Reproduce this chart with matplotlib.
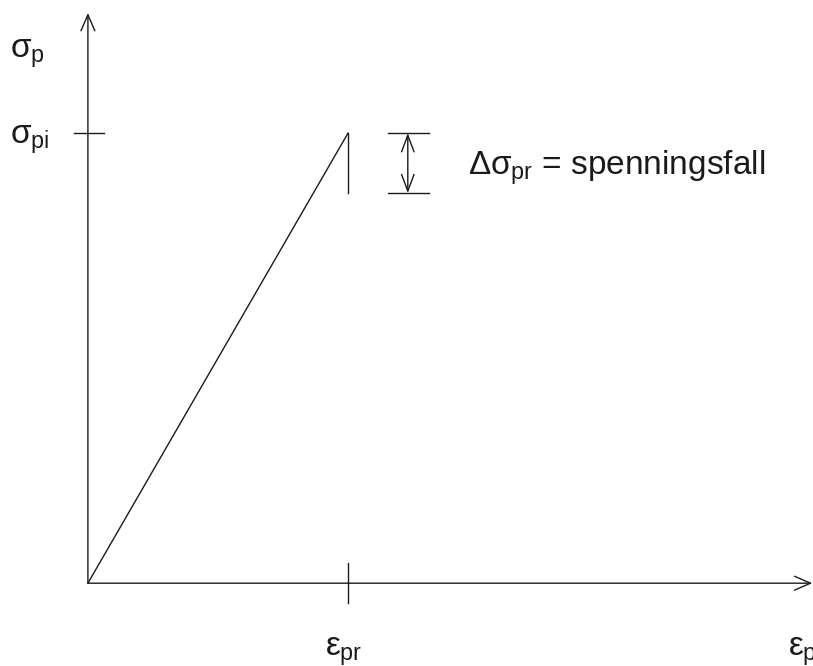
import matplotlib.pyplot as plt

plt.rcParams['font.family'] = ['Liberation Sans', 'DejaVu Sans']
plt.rcParams['mathtext.fontset'] = 'custom'
plt.rcParams['mathtext.rm'] = 'Liberation Sans'
plt.rcParams['mathtext.it'] = 'Liberation Sans'
plt.rcParams['mathtext.bf'] = 'Liberation Sans'

# stress-strain for the prestressing steel (normalised units)
strain = [0.0, 1.0]          # 0 -> eps_pr
stress = [0.0, 1.0]          # 0 -> sigma_pi
eps_pr = 1.0
sigma_pi = 1.0
drop = 0.133                 # stress loss (delta sigma_pr)
x_max = 2.785
y_max = 1.267

ink = '#1a1a1a'
fs = 24

fig = plt.figure(figsize=(8.13, 6.66), dpi=100)
ax = fig.add_axes([0, 0, 1, 1])
ax.set_xlim(-0.338, 2.788)
ax.set_ylim(-0.184, 1.296)
ax.axis('off')

# axes with open arrow heads
ax_arrow = dict(arrowstyle='->,head_length=1.15,head_width=0.5', mutation_scale=10,
                lw=1.0, color=ink, shrinkA=0, shrinkB=0)
ax.annotate('', xy=(0, y_max), xytext=(0, 0), arrowprops=ax_arrow)
ax.annotate('', xy=(x_max, 0), xytext=(0, 0), arrowprops=ax_arrow)

# ticks
ax.plot([-0.054, 0.062], [sigma_pi, sigma_pi], color=ink, lw=1.0)
ax.plot([eps_pr, eps_pr], [-0.044, 0.044], color=ink, lw=1.0)

# loading line and the drop
ax.plot(strain, stress, color=ink, lw=1.0)
ax.plot([eps_pr, eps_pr], [sigma_pi, sigma_pi - drop], color=ink, lw=1.0)

# dimension arrow for the stress loss
xd = 1.23
ax.plot([xd - 0.077, xd + 0.081], [sigma_pi, sigma_pi], color=ink, lw=1.0)
ax.plot([xd - 0.077, xd + 0.081], [sigma_pi - drop, sigma_pi - drop], color=ink, lw=1.0)
ax.annotate('', xy=(xd, sigma_pi - drop), xytext=(xd, sigma_pi),
            arrowprops=dict(arrowstyle='<->,head_length=1.2,head_width=0.45',
                            mutation_scale=10, lw=1.0, color=ink,
                            shrinkA=0, shrinkB=0))

# labels
ax.text(-0.30, 1.167, r'$\sigma_{\mathrm{p}}$', fontsize=fs, color=ink, va='baseline')
ax.text(-0.30, 0.978, r'$\sigma_{\mathrm{pi}}$', fontsize=fs, color=ink, va='baseline')
ax.text(0.912, -0.160, r'$\epsilon_{\mathrm{pr}}$', fontsize=fs, color=ink, va='baseline')
ax.text(2.69, -0.160, r'$\epsilon_{\mathrm{p}}$', fontsize=fs, color=ink, va='baseline')
ax.text(1.462, 0.907, r'$\Delta\sigma_{\mathrm{pr}}$ = spenningsfall',
        fontsize=fs, color=ink, va='baseline')

fig.savefig('out.png', dpi=100)
